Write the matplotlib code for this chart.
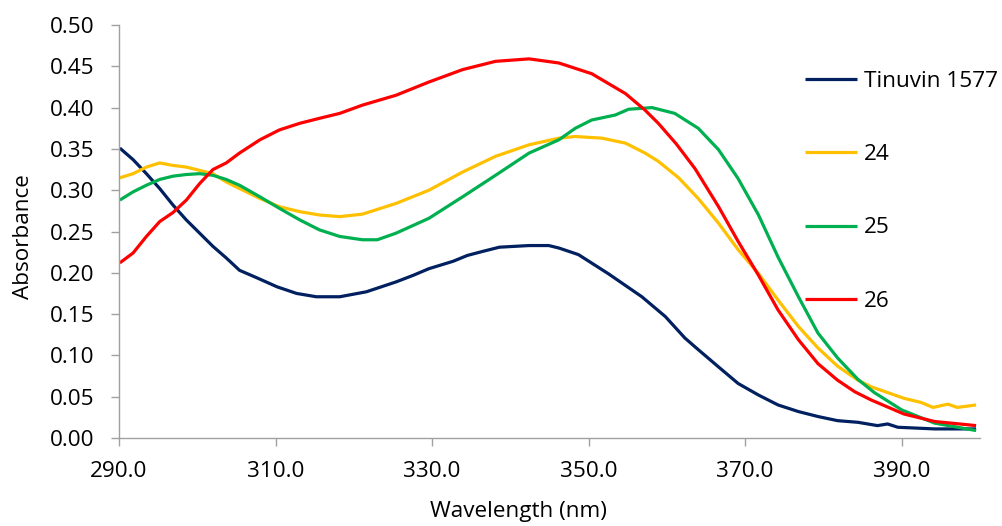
import matplotlib
matplotlib.use("Agg")
import matplotlib.pyplot as plt

# Data
tin_x = [290.1, 291.8, 293.5, 295.2, 296.9, 298.6, 300.3, 302.0, 303.7, 305.4, 307.6, 310.2, 312.7, 315.2,
         318.2, 321.6, 325.4, 327.6, 329.6, 332.7, 334.5, 336.5, 338.6, 342.4, 344.9, 346.2, 348.7,
         352.5, 356.8, 359.8, 362.3, 364.0, 366.6, 369.1, 371.7, 374.2, 376.8, 379.3, 381.8, 384.4,
         386.9, 388.2, 389.5, 394.2, 399.5]
tin_y = [0.351, 0.337, 0.320, 0.302, 0.282, 0.264, 0.248, 0.232, 0.218, 0.203, 0.194, 0.183, 0.175, 0.171,
         0.171, 0.177, 0.189, 0.197, 0.205, 0.214, 0.221, 0.226, 0.231, 0.233, 0.233, 0.230, 0.222,
         0.199, 0.171, 0.147, 0.121, 0.107, 0.086, 0.066, 0.052, 0.040, 0.032, 0.026, 0.021, 0.019,
         0.015, 0.017, 0.013, 0.011, 0.011]

s24_x = [290.1, 291.8, 293.5, 295.2, 296.9, 298.6, 300.3, 302.0, 303.7, 305.4, 308.0, 310.5, 313.1, 315.6,
         318.2, 321.1, 325.4, 329.6, 333.9, 338.1, 342.4, 346.2, 348.3, 351.7, 354.7, 357.2, 358.9,
         361.5, 364.0, 366.6, 369.1, 371.7, 374.2, 376.8, 379.3, 381.8, 384.4, 386.1, 390.3, 392.5,
         394.0, 395.9, 397.1, 399.5]
s24_y = [0.315, 0.320, 0.328, 0.333, 0.330, 0.328, 0.324, 0.320, 0.310, 0.302, 0.290, 0.280, 0.274, 0.270,
         0.268, 0.271, 0.284, 0.300, 0.322, 0.341, 0.355, 0.363, 0.365, 0.363, 0.357, 0.345, 0.335,
         0.315, 0.290, 0.260, 0.228, 0.199, 0.167, 0.135, 0.109, 0.087, 0.070, 0.062, 0.048, 0.043,
         0.037, 0.041, 0.037, 0.040]

s25_x = [290.1, 291.8, 293.5, 295.2, 296.9, 298.6, 300.3, 302.0, 303.7, 305.4, 308.0, 310.5, 313.1, 315.6,
         318.2, 321.1, 323.0, 325.4, 329.6, 333.9, 338.1, 342.4, 346.2, 348.3, 350.4, 353.4, 355.1,
         358.1, 361.0, 364.0, 366.6, 369.1, 371.7, 374.2, 376.8, 379.3, 381.8, 384.4, 386.5, 390.0,
         394.2, 399.5]
s25_y = [0.288, 0.298, 0.306, 0.313, 0.317, 0.319, 0.320, 0.318, 0.313, 0.306, 0.292, 0.278, 0.264, 0.252,
         0.244, 0.240, 0.240, 0.248, 0.266, 0.292, 0.318, 0.345, 0.361, 0.375, 0.385, 0.391, 0.398,
         0.400, 0.393, 0.375, 0.349, 0.314, 0.270, 0.219, 0.171, 0.127, 0.097, 0.071, 0.055, 0.034,
         0.018, 0.009]

s26_x = [290.1, 291.8, 293.5, 295.2, 296.9, 298.6, 300.3, 302.0, 303.7, 305.4, 308.0, 310.5, 313.1, 315.6,
         318.2, 321.1, 325.4, 329.6, 333.9, 338.1, 342.4, 346.2, 350.4, 354.7, 357.2, 358.9, 361.2,
         363.6, 366.6, 369.1, 371.7, 374.2, 376.8, 379.3, 381.8, 384.0, 386.1, 390.3, 394.2, 399.5]
s26_y = [0.212, 0.224, 0.244, 0.262, 0.273, 0.288, 0.308, 0.325, 0.333, 0.345, 0.361, 0.373, 0.381, 0.387,
         0.393, 0.403, 0.415, 0.431, 0.446, 0.456, 0.459, 0.454, 0.441, 0.417, 0.397, 0.381, 0.356,
         0.326, 0.280, 0.238, 0.197, 0.155, 0.119, 0.090, 0.070, 0.056, 0.046, 0.029, 0.020, 0.015]

labels = ["Tinuvin 1577", "24", "25", "26"]
colors = ["#002060", "#FFC000", "#00B050", "#FF0000"]
xticks = [290, 310, 330, 350, 370, 390]
yticks = [0.00, 0.05, 0.10, 0.15, 0.20, 0.25, 0.30, 0.35, 0.40, 0.45, 0.50]

plt.rcParams['font.family'] = ['Open Sans', 'DejaVu Sans']
FS = 16.2

W, H = 1003, 526
fig = plt.figure(figsize=(W / 100, H / 100), dpi=100)
ax = fig.add_axes([119/W, 88/H, (980-119)/W, (438-25)/H])

series = [(tin_x, tin_y), (s24_x, s24_y), (s25_x, s25_y), (s26_x, s26_y)]
for (xs, ys), lab, c in zip(series, labels, colors):
    ax.plot(xs, ys, color=c, lw=2.3, label=lab, solid_joinstyle='round', solid_capstyle='butt')

ax.set_xlim(290, 400)
ax.set_ylim(0, 0.5)
ax.set_xticks(xticks)
ax.set_xticklabels([f"{v:.1f}" for v in xticks])
ax.set_yticks(yticks)
ax.set_yticklabels([f"{v:.2f}" for v in yticks])
for s in ['top', 'right']:
    ax.spines[s].set_visible(False)
for s in ['left', 'bottom']:
    ax.spines[s].set_color('#A0A0A0')
    ax.spines[s].set_linewidth(1.0)
ax.tick_params(axis='both', colors='#A0A0A0', labelcolor='black', labelsize=FS, length=5.8, width=1.0)
ax.tick_params(axis='x', pad=11)
ax.tick_params(axis='y', pad=12)
ax.set_xlabel("Wavelength (nm)", fontsize=FS)
ax.set_ylabel("Absorbance", fontsize=FS)
# place axis titles where the reference has them (pixel positions converted to axes fraction)
ax.xaxis.set_label_coords((518 - 119) / (980 - 119), (438 - 512) / (438 - 25))
ax.xaxis.label.set_verticalalignment('center')
ax.yaxis.set_label_coords((24 - 119) / (980 - 119), (438 - 237) / (438 - 25))
ax.yaxis.label.set_verticalalignment('center')

leg = ax.legend(loc='upper left', bbox_to_anchor=(805/W, 1 - 71/H), bbox_transform=fig.transFigure,
                frameon=False, fontsize=FS, labelspacing=2.32, handlelength=2.3, handletextpad=0.3,
                borderaxespad=0, borderpad=0)

fig.savefig("out.png", dpi=100)
